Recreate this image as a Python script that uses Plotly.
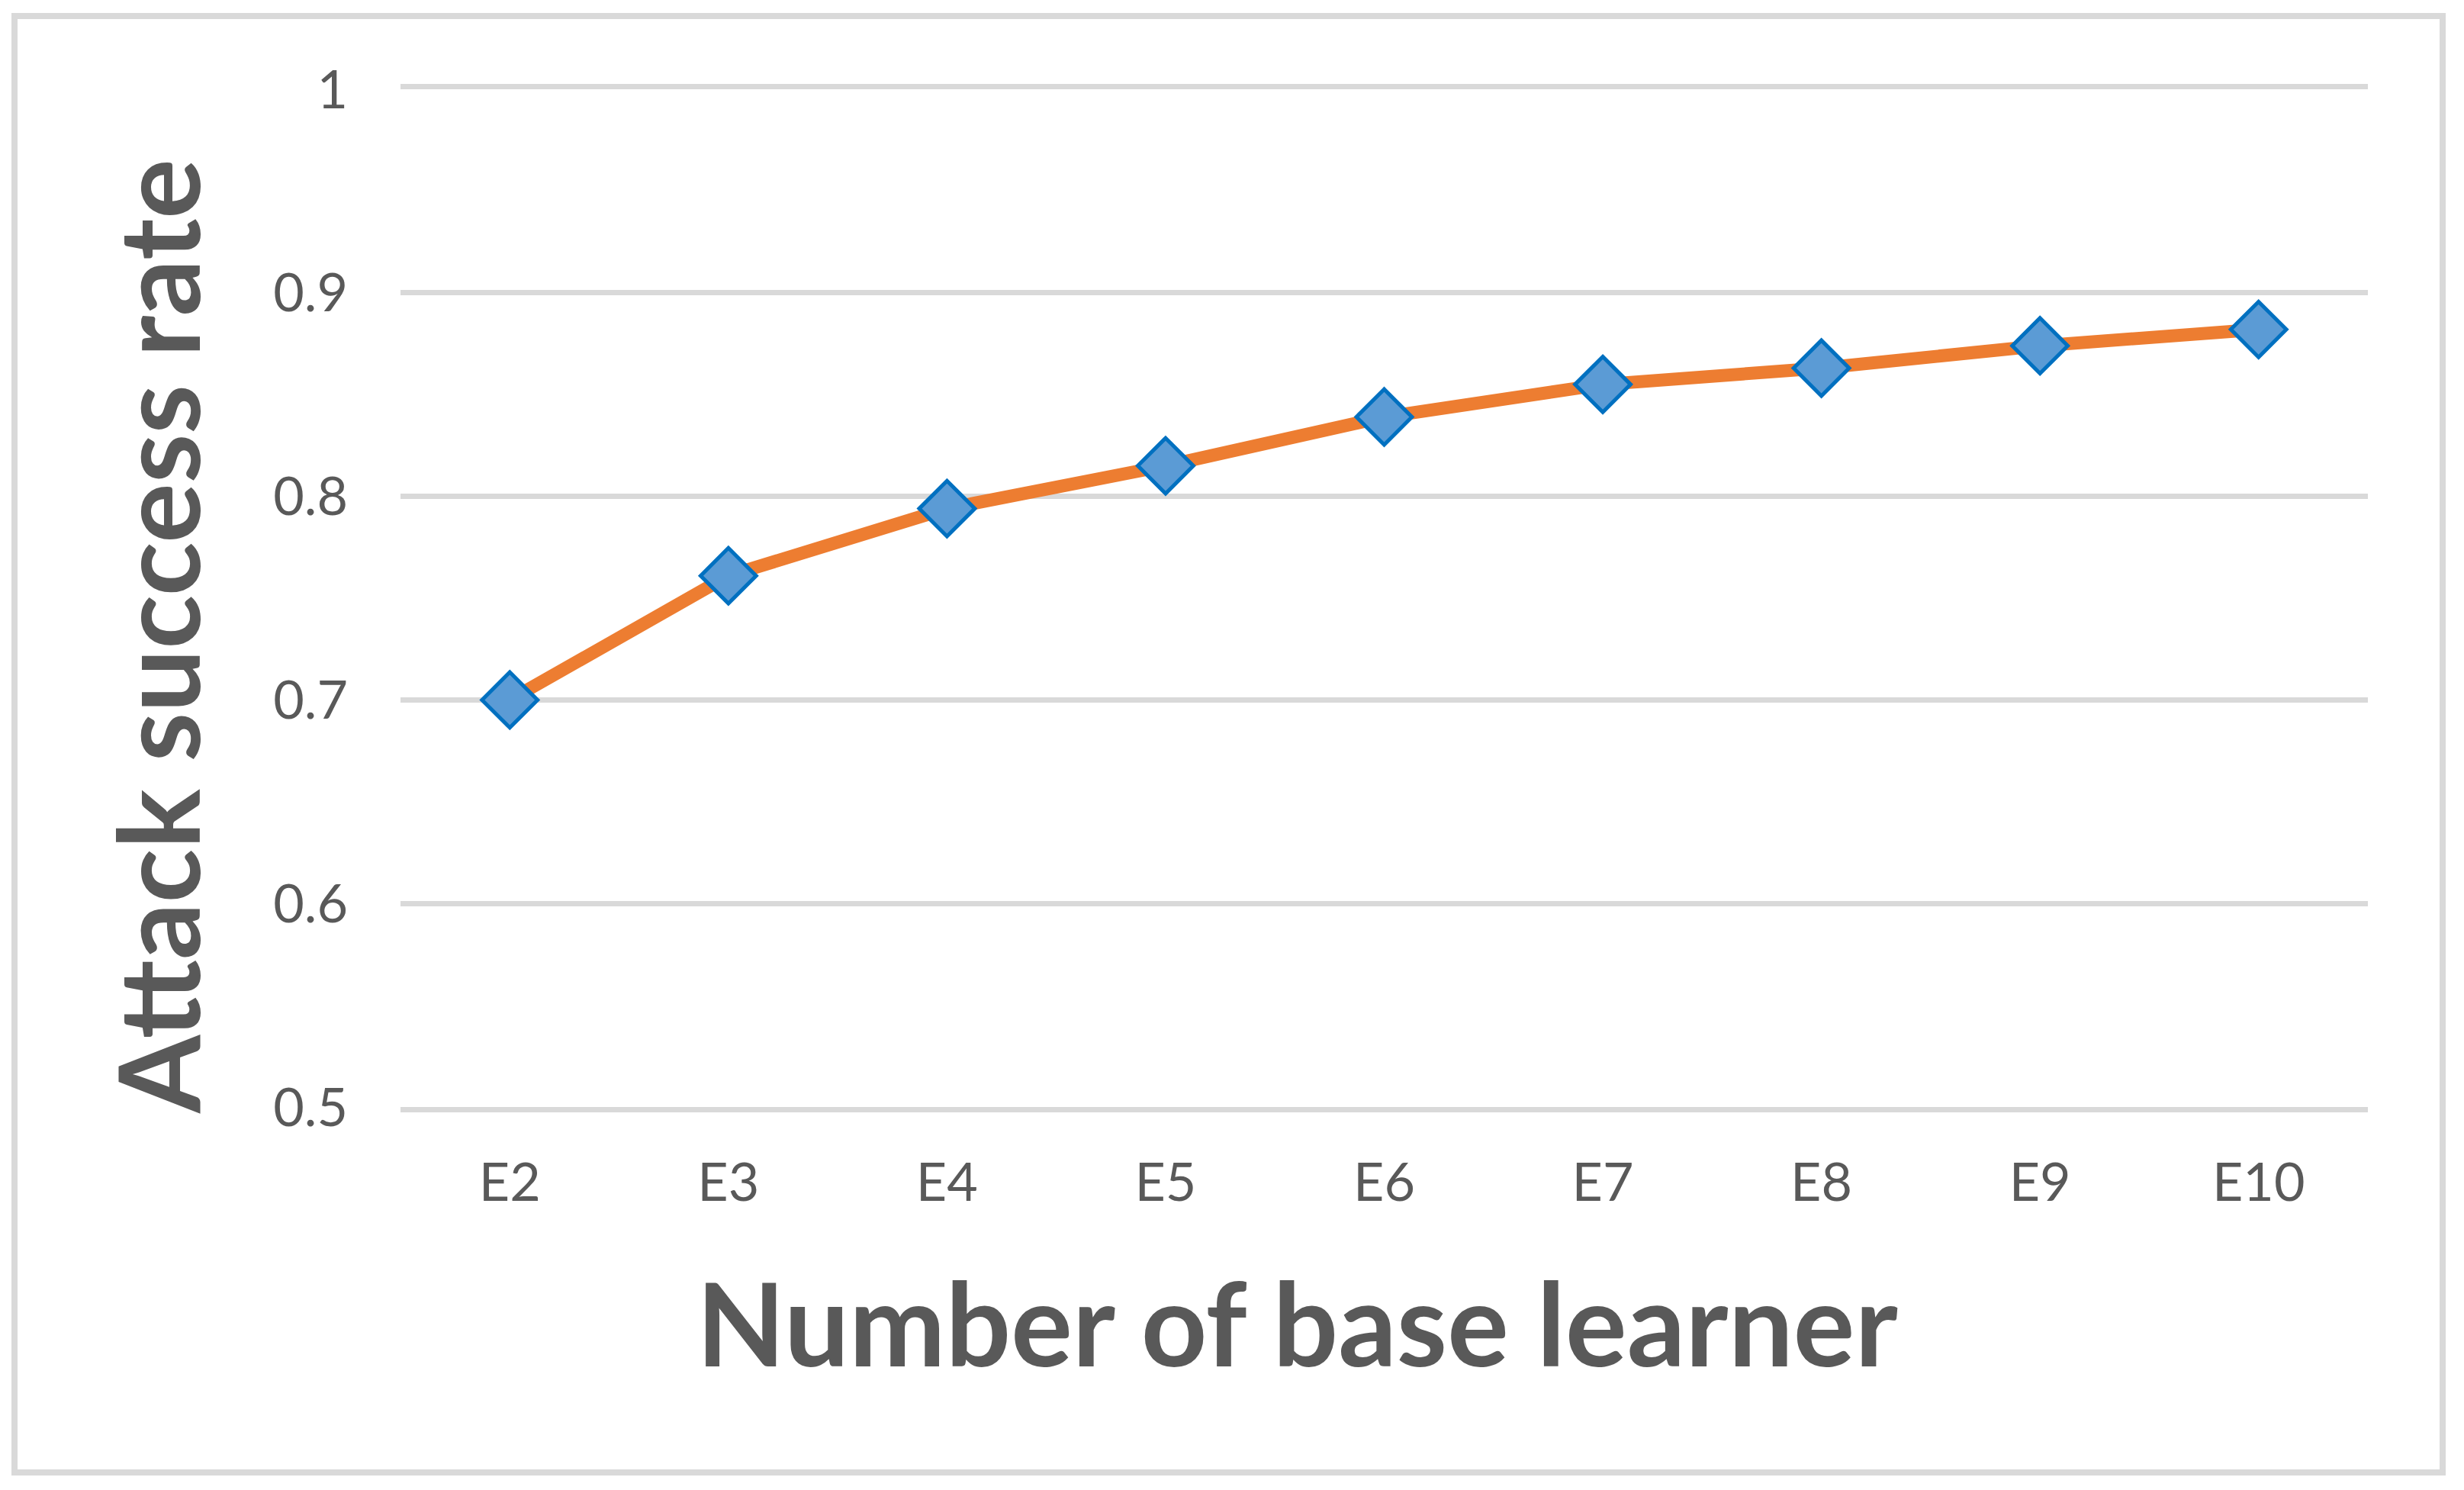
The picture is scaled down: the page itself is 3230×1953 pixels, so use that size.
import plotly.graph_objects as go

# data
learners = ["E2", "E3", "E4", "E5", "E6", "E7", "E8", "E9", "E10"]
success_rate = [0.700, 0.761, 0.794, 0.815, 0.839, 0.855, 0.863, 0.874, 0.882]

y_ticks = [0.5, 0.6, 0.7, 0.8, 0.9, 1.0]
y_tick_labels = ["0.5", "0.6", "0.7", "0.8", "0.9", "1"]

W, H = 3230, 1953
# plot area in pixels
L, R, T, B = 525, 3104, 117, 1451
# the page body has an 8px margin, so pull everything back by that much
PAD = 8


def px_x(x):
    return (x - L) / (R - L)


def px_y(y):
    return (B - y) / (B - T)


TEXT = "#595959"
GRID = "#D9D9D9"
FONT = "Lato, 'Open Sans', sans-serif"

fig = go.Figure()

fig.add_trace(
    go.Scatter(x=learners,
               y=success_rate,
               mode="lines+markers",
               line=dict(color="#ED7D31", width=17),
               marker=dict(symbol="diamond",
                           size=56,
                           color="#5B9BD5",
                           line=dict(color="#0070C0", width=5)),
               showlegend=False))

fig.update_xaxes(type="category",
                 range=[-0.5, len(learners) - 0.5],
                 showgrid=False,
                 showline=True,
                 mirror=True,
                 linecolor=GRID,
                 linewidth=7,
                 ticks="",
                 ticklabelstandoff=32,
                 tickfont=dict(family=FONT, size=70, color=TEXT),
                 zeroline=False)

fig.update_yaxes(range=[0.5, 1.0],
                 tickvals=y_ticks,
                 ticktext=y_tick_labels,
                 showgrid=True,
                 gridcolor=GRID,
                 gridwidth=7,
                 showline=False,
                 zeroline=False,
                 ticks="",
                 ticklabelstandoff=68,
                 tickfont=dict(family=FONT, size=70, color=TEXT))

# axis titles
fig.add_annotation(text="<b>Number of base learner</b>",
                   xref="paper", yref="paper",
                   x=px_x(1700), y=px_y(1732),
                   xanchor="center", yanchor="middle",
                   showarrow=False,
                   font=dict(family=FONT, size=151, color=TEXT))
fig.add_annotation(text="<b>Attack success rate</b>",
                   xref="paper", yref="paper",
                   x=px_x(205), y=px_y(834),
                   xanchor="center", yanchor="middle",
                   textangle=-90,
                   showarrow=False,
                   font=dict(family=FONT, size=147, color=TEXT))

# chart area frame
fig.add_shape(type="rect",
              xref="paper", yref="paper",
              x0=px_x(19), x1=px_x(3202),
              y0=px_y(1930), y1=px_y(21),
              line=dict(color=GRID, width=8),
              fillcolor="rgba(0,0,0,0)",
              layer="below")

fig.update_layout(width=W - PAD,
                  height=H - PAD,
                  margin=dict(l=L - PAD, r=W - R, t=T - PAD, b=H - B),
                  plot_bgcolor="white",
                  paper_bgcolor="white")

fig.write_html("out.html")
